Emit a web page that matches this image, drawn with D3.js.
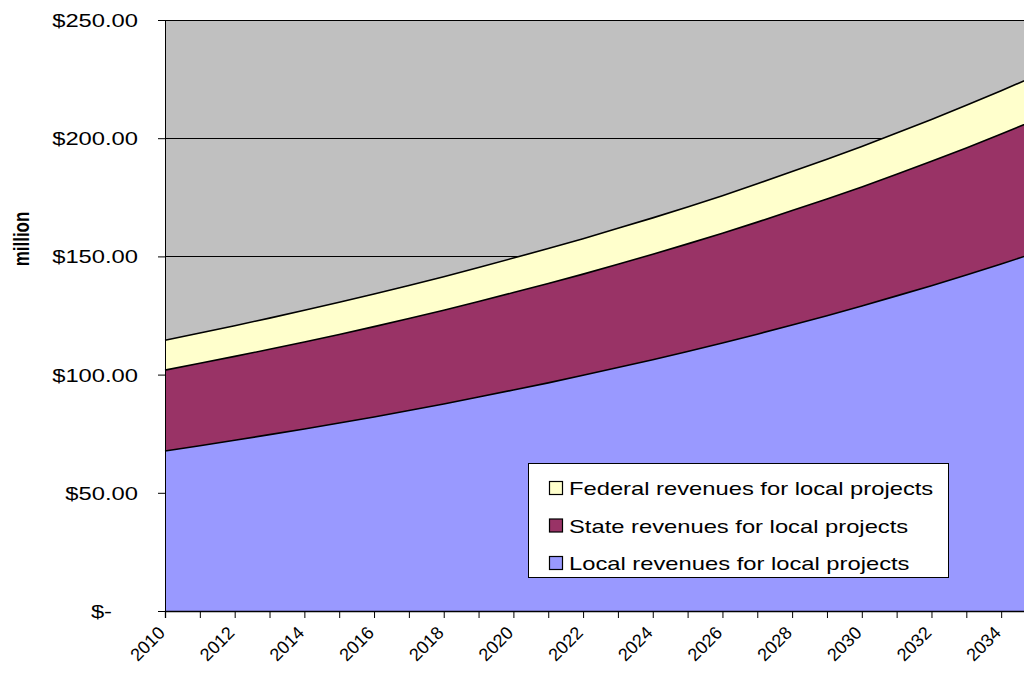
<!DOCTYPE html>
<html><head><meta charset="utf-8">
<script src="https://cdn.jsdelivr.net/npm/d3@7"></script>
<style>body{margin:0;background:#fff}svg{display:block}text{font-family:Arial,"Liberation Sans",sans-serif}</style>
</head><body>
<script>
const years = [2010,2011,2012,2013,2014,2015,2016,2017,2018,2019,2020,2021,2022,2023,2024,2025,2026,2027,2028,2029,2030,2031,2032,2033,2034,2035];
const localRev = [67.7,69.9,72.2,74.6,77.0,79.5,82.1,84.8,87.6,90.5,93.5,96.5,99.7,103.0,106.3,109.8,113.4,117.1,121.0,124.9,129.0,133.3,137.6,142.1,146.8,151.6];
const stateRev = [34.2,34.9,35.5,36.1,36.8,37.5,38.2,38.9,39.6,40.4,41.2,42.0,42.8,43.7,44.6,45.5,46.4,47.4,48.4,49.4,50.4,51.5,52.6,53.8,55.0,56.2];
const federalRev = [12.6,12.8,13.0,13.2,13.4,13.6,13.8,14.0,14.2,14.4,14.6,14.8,15.0,15.2,15.4,15.6,15.9,16.2,16.5,16.8,17.1,17.4,17.7,18.0,18.3,18.6];
const seriesNames = ["Local revenues for local projects","State revenues for local projects","Federal revenues for local projects"];
const seriesColors = ["#9999FF","#993366","#FFFFCC"];
const yTicks = [0,50,100,150,200,250];
const xLabelYears = [2010,2012,2014,2016,2018,2020,2022,2024,2026,2028,2030,2032,2034];

(function(){
const W=1024,H=678;
const svg=d3.select("body").append("svg").attr("width",W).attr("height",H);
const mLeft=165, mTop=20, mBottom=611;
const x=d3.scaleLinear().domain([2010,2035]).range([mLeft,mLeft+25*34.84]);
const y=d3.scaleLinear().domain([0,250]).range([mBottom,mTop]);

svg.append("rect").attr("x",mLeft).attr("y",mTop).attr("width",x(2035)-mLeft).attr("height",mBottom-mTop).attr("fill","#C0C0C0");
svg.append("g").selectAll("line").data(yTicks.filter(d=>d>0)).join("line")
  .attr("x1",mLeft).attr("x2",x(2035)).attr("y1",d=>Math.round(y(d))+0.5).attr("y2",d=>Math.round(y(d))+0.5)
  .attr("stroke","#000").attr("stroke-width",1);

const table=years.map((yr,i)=>({year:yr,local:localRev[i],state:stateRev[i],federal:federalRev[i]}));
const layers=d3.stack().keys(["local","state","federal"])(table);
const area=d3.area().x(d=>x(d.data.year)).y0(d=>y(d[0])).y1(d=>y(d[1]));
const topLine=d3.line().x(d=>x(d.data.year)).y(d=>y(d[1]));
svg.append("g").selectAll("path").data(layers).join("path")
  .attr("d",area).attr("fill",(d,i)=>seriesColors[i]);
svg.append("g").selectAll("path").data(layers).join("path")
  .attr("d",topLine).attr("fill","none").attr("stroke","#000").attr("stroke-width",1.6);

const yAxisG=svg.append("g").attr("transform",`translate(${mLeft},0)`)
  .call(d3.axisLeft(y).tickValues(yTicks).tickSize(7).tickFormat(()=>""));
yAxisG.select(".domain").attr("stroke","#000");
yAxisG.selectAll(".tick line").attr("stroke","#000");
svg.append("g").selectAll("text").data(yTicks).join("text")
  .attr("transform",d=>`translate(${d===0?112:138},${y(d)+7}) scale(1.25,1)`)
  .attr("text-anchor","end").style("font-size","19px").attr("fill","#000")
  .text(d=>d===0?"$-":"$"+d3.format(".2f")(d));

const xAxisG=svg.append("g").attr("transform",`translate(0,${mBottom})`)
  .call(d3.axisBottom(x).tickValues(years).tickSize(7).tickFormat(()=>""));
xAxisG.select(".domain").attr("stroke","#000").attr("stroke-width",1.3);
xAxisG.selectAll(".tick line").attr("stroke","#000");
svg.append("g").selectAll("text").data(xLabelYears).join("text")
  .attr("transform",d=>`translate(${x(d)+1},${mBottom+23}) rotate(-45)`)
  .attr("text-anchor","end").style("font-size","18px").attr("fill","#000").text(d=>d);

svg.append("text").attr("transform","translate(29,239) scale(1.25,1) rotate(-90)")
  .attr("text-anchor","middle").style("font-size","17px").attr("font-weight","bold").text("million");

const lg=svg.append("g");
lg.append("rect").attr("x",528.5).attr("y",463.5).attr("width",420).attr("height",114)
  .attr("fill","#fff").attr("stroke","#000").attr("stroke-width",1);
[2,1,0].forEach((si,k)=>{
  const cy=488+k*37.5;
  lg.append("rect").attr("x",549.5).attr("y",cy-6.5).attr("width",13).attr("height",13)
    .attr("fill",seriesColors[si]).attr("stroke","#000").attr("stroke-width",1.2);
  lg.append("text").attr("transform",`translate(569,${cy+7}) scale(1.25,1)`)
    .style("font-size","19px").attr("fill","#000").text(seriesNames[si]);
});
})();
</script>
</body></html>
